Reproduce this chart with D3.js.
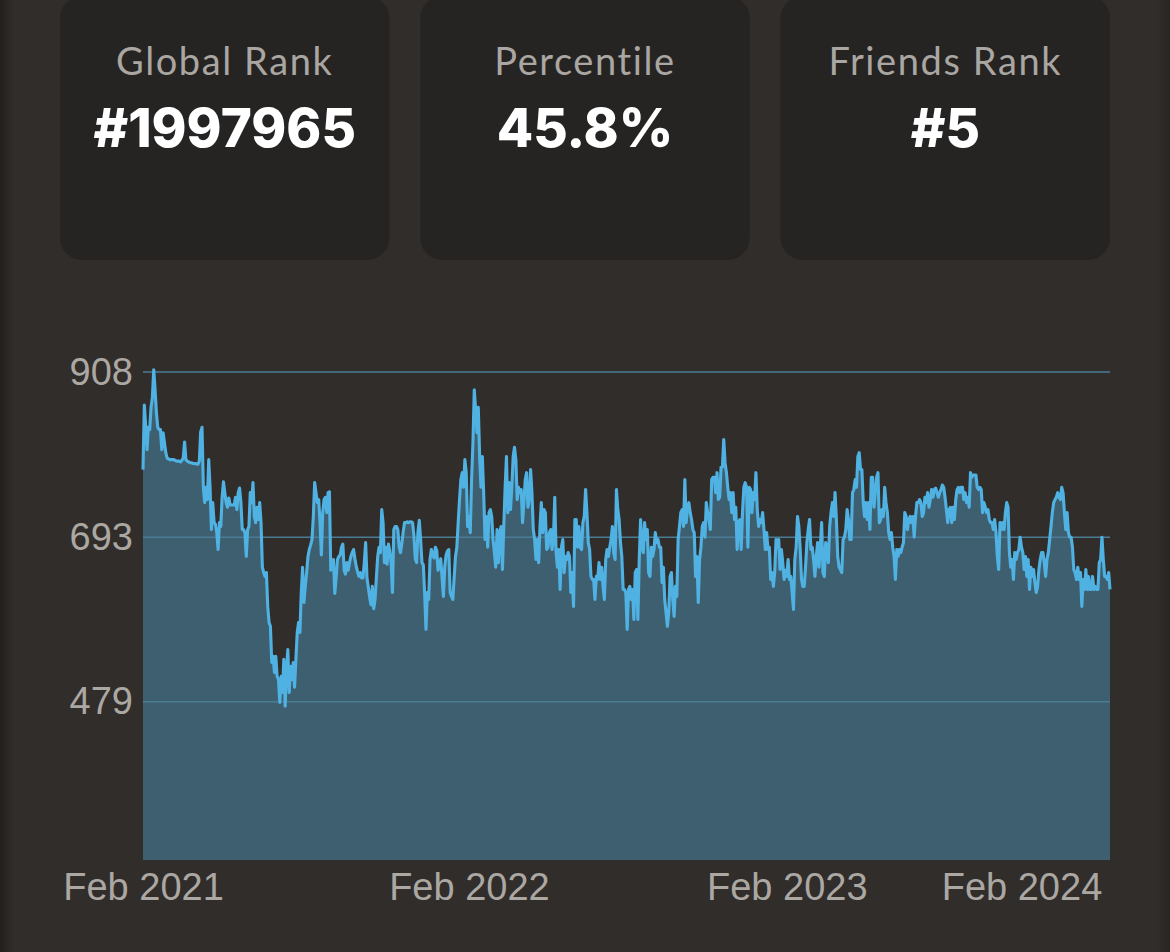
<!DOCTYPE html>
<html><head><meta charset="utf-8">
<script src="https://cdn.jsdelivr.net/npm/d3@7"></script>
<style>
html,body{margin:0;padding:0;background:#312d2a;}
svg{display:block;}
</style></head>
<body><svg id="c" width="1170" height="952"></svg>
<script>
// ---- data ----
const cardTitles = ["Global Rank", "Percentile", "Friends Rank"];
const cardValues = ["#1997965", "45.8%", "#5"];
const yTickValues = [479, 693, 908];
const xTickLabels = ["Feb 2021", "Feb 2022", "Feb 2023", "Feb 2024"];

const rating2021 = [781,865,838,807,836,833,862,875,911,885,855,836,833,833,807,829,816,803,796,795,794,794,794,794,793,792,792,792,791,793,796,817,794,792,791,790,790,789,789,789,788,788,792,830,836,758,738,758,742,794,758,703,738,712,710,699,677,712,707,745,765,751,738,732,744,735,735,735,735,745,729,751,757,738,703,703,699,668,703,707,751,738,764,720,712,732,716,738,712,654,647,642,647,603,582,577,530,538,517,538,512,508,478,512,491,534,473,521,547,491,525,508,530,498,534,569,582,569,621,654,608,629,
647,668,677,683,690,720,764,751,738,742,712,670,725,742,745,725,751,752,650,655,664,620,640,664,668,670,680,684,650,645,660,650,660,668,673,677,665,655,648,642,647,640,640,660,686,640,628,615,605,629,600,612,640,668,680,673,729,712,660,680,658,684,675,660,621,703,707,707,703,680,673,685,700,712,712,713,712,713,713,712,695,665,660,700,715,690,660,657,620,573,621,612,664,677,670,666,680,676,650,655,665,640,616,655,670,675,677,621,616,612,640,668,680,712,742,768,777,758,794,777,707];

const rating2022 = [720,699,768,816,885,859,829,862,798,758,798,751,690,720,680,725,729,720,690,673,654,703,660,699,707,651,707,758,798,725,764,729,758,798,810,794,742,758,751,755,712,738,768,777,732,742,781,751,703,690,664,690,660,707,738,699,729,725,677,680,699,703,677,690,745,673,654,677,625,680,690,647,668,664,673,668,621,647,603,716,716,680,707,680,677,712,720,755,725,686,677,642,638,638,612,642,638,660,638,654,629,612,664,677,668,680,690,707,673,664,755,729,716,686,668,625,
625,621,573,625,629,612,625,586,647,651,586,664,716,680,673,712,690,703,647,642,680,668,677,699,686,690,680,680,634,654,612,595,577,595,642,647,612,590,629,616,690,707,725,729,707,768,712,732,738,725,716,703,699,642,668,608,664,680,707,712,693,738,725,716,703,768,771,771,751,777,742,745,784,784,820,790,777,758,742,751,725,751,716,732,677,712,716,677,725,758,764,758,680,758,755,725,751,742,777,729,707,716,712,725,703,677,699,677,680,638,647,629,647,690,680,690,651,677,660,638,650];

const rating2023 = [642,664,638,642,621,599,664,680,720,707,677,638,629,629,654,686,703,716,677,680,664,642,668,686,654,680,712,647,642,686,680,660,707,725,738,720,751,716,668,654,651,647,690,693,703,729,716,690,690,751,755,768,758,798,803,781,781,738,720,738,716,738,703,771,771,732,751,771,777,712,716,729,720,758,738,725,699,690,699,680,668,638,677,668,677,673,680,686,725,720,703,716,720,712,720,693,720,738,738,742,738,720,725,745,738,751,732,742,755,745,755,757,751,745,751,755,761,758,
745,729,712,729,732,712,732,716,742,755,758,751,758,758,742,751,738,745,732,777,771,774,774,774,758,755,758,755,725,738,732,725,729,716,712,712,703,716,699,668,651,712,703,712,703,725,738,732,673,654,664,638,673,664,673,677,693];

const rating2024 = [680,673,651,668,642,664,625,654,642,651,634,621,629,651,664,673,673,660,642,664,673,690,707,725,738,742,745,751,745,742,758,751,725,703,725,699,693,693,680,651,647,638,654,638,647,603,638,625,651,625,642,625,625,642,625,629,625,625,660,664,693,664,642,642,638,647,625];

const years = [rating2021, rating2022, rating2023, rating2024];
const series = years.flat();
const tickIdx = [];
years.reduce((acc, arr) => { tickIdx.push(acc); return acc + arr.length; }, 0);

// ---- drawing ----
const svg = d3.select("#c");
const W = 1170, H = 952;

const defs = svg.append("defs");
const lg = defs.append("linearGradient").attr("id","edgeL").attr("x1","0").attr("x2","1");
lg.append("stop").attr("offset","0").attr("stop-color","#221f1d");
lg.append("stop").attr("offset","1").attr("stop-color","#312d2a");
const rg = defs.append("linearGradient").attr("id","edgeR").attr("x1","0").attr("x2","1");
rg.append("stop").attr("offset","0").attr("stop-color","#312d2a");
rg.append("stop").attr("offset","1").attr("stop-color","#282522");

svg.append("rect").attr("width",W).attr("height",H).attr("fill","#312d2a");
svg.append("rect").attr("x",0).attr("y",0).attr("width",14).attr("height",H).attr("fill","url(#edgeL)");
svg.append("rect").attr("x",1156).attr("y",0).attr("width",14).attr("height",H).attr("fill","url(#edgeR)");

// cards
const cardX = d3.scaleBand().domain(d3.range(3)).range([60, 1110]).paddingInner(30/350).paddingOuter(0);
const cards = svg.selectAll("g.card").data(cardTitles).join("g").attr("class","card")
  .attr("transform", (d,i) => `translate(${cardX(i)},0)`);
cards.append("rect").attr("x",0).attr("y",-4).attr("width",cardX.bandwidth()).attr("height",264)
  .attr("rx",22).attr("fill","#262422");
cards.append("text").attr("x",cardX.bandwidth()/2).attr("y",75).attr("text-anchor","middle")
  .attr("font-family","Lato, 'Open Sans', sans-serif").attr("font-size",38).attr("letter-spacing",1.6)
  .attr("fill","#aaa6a2").text(d => d);
cards.append("text").attr("x",cardX.bandwidth()/2).attr("y",147).attr("text-anchor","middle")
  .attr("font-family","Inter, 'Open Sans', sans-serif").attr("font-weight",800).attr("font-size",53)
  .attr("fill","#ffffff").text((d,i) => cardValues[i]);

// chart
const x = d3.scaleLinear().domain([0, series.length - 1]).range([143, 1110]);
const y = d3.scaleLinear().domain([273, 908]).range([860, 372]);

svg.append("path").datum(series)
  .attr("fill","#3e5f70")
  .attr("d", d3.area().x((d,i) => x(i)).y0(y(273)).y1(d => y(d)));

svg.append("g").selectAll("line").data(yTickValues).join("line")
  .attr("x1", x(0)).attr("x2", x(series.length - 1))
  .attr("y1", d => y(d)).attr("y2", d => y(d))
  .attr("stroke","#4a7c95").attr("stroke-width",1.5);

svg.append("path").datum(series)
  .attr("fill","none").attr("stroke","#4fb2e3").attr("stroke-width",3.1)
  .attr("stroke-linejoin","round")
  .attr("d", d3.line().x((d,i) => x(i)).y(d => y(d)));

const yAxis = svg.append("g").attr("transform",`translate(${x(0)},0)`)
  .call(d3.axisLeft(y).tickValues(yTickValues).tickSize(0).tickPadding(10).tickFormat(d3.format("d")));
yAxis.select(".domain").remove();
yAxis.selectAll("text").attr("font-family","'Liberation Sans', Arial, sans-serif").attr("font-size",38).attr("fill","#aba7a3");

const xAxis = svg.append("g").attr("transform",`translate(0,${y(273)})`)
  .call(d3.axisBottom(x).tickValues(tickIdx).tickSize(0).tickPadding(13).tickFormat((d,i) => xTickLabels[i]));
xAxis.select(".domain").remove();
xAxis.selectAll("text").attr("font-family","'Liberation Sans', Arial, sans-serif").attr("font-size",38).attr("fill","#aba7a3");
</script></body></html>
